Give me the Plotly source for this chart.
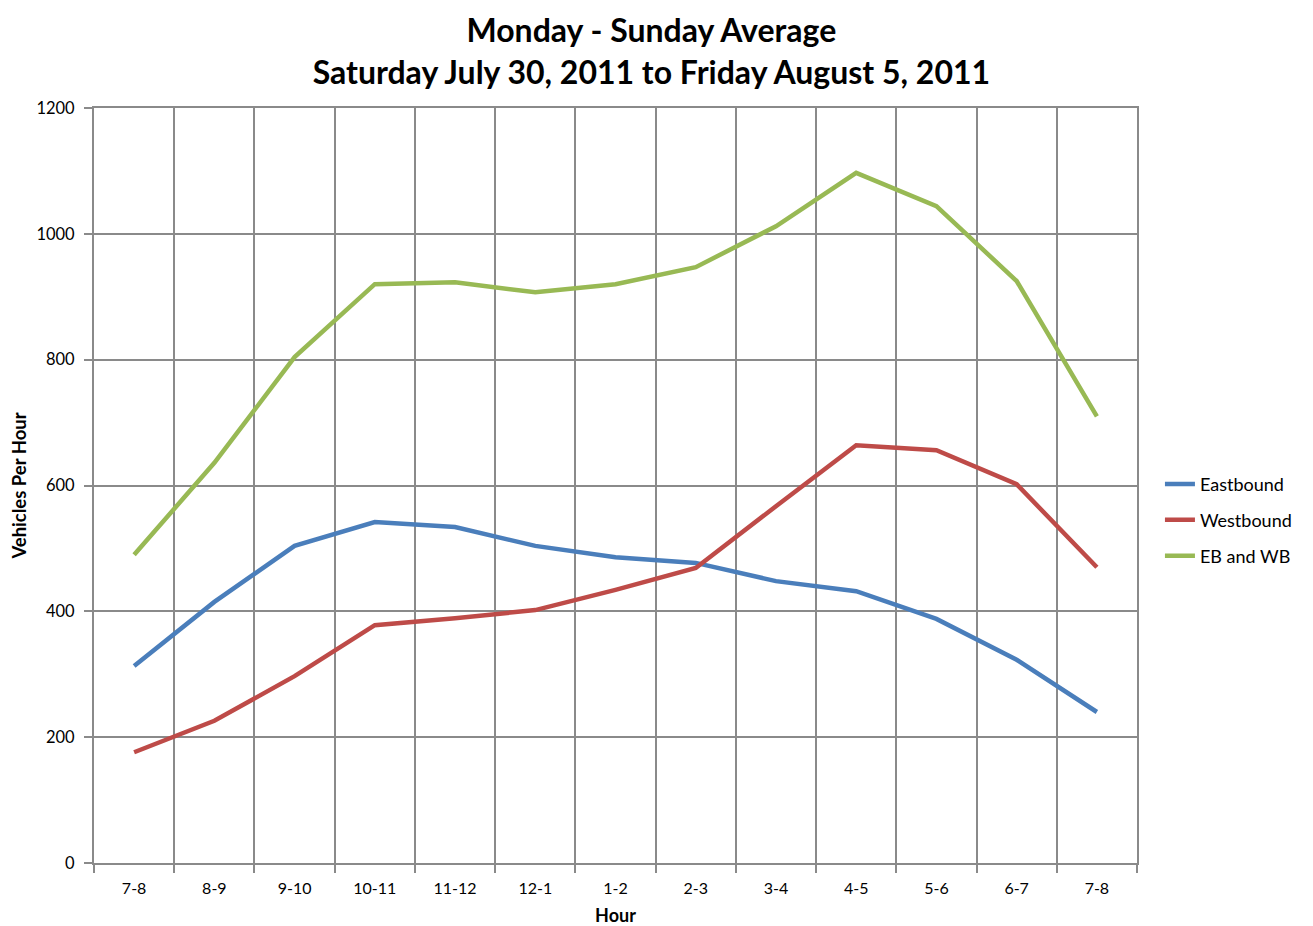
import plotly.graph_objects as go

hours = ["7-8", "8-9", "9-10", "10-11", "11-12", "12-1", "1-2", "2-3", "3-4", "4-5", "5-6", "6-7", "7-8"]
eastbound = [313, 415, 504, 542, 534, 504, 486, 477, 448, 432, 388, 323, 240]
westbound = [176, 226, 297, 378, 389, 402, 434, 469, 567, 664, 656, 602, 470]
eb_and_wb = [490, 636, 804, 920, 923, 907, 920, 947, 1012, 1097, 1044, 925, 710]

x = list(range(len(hours)))
FONT = "Lato, 'Open Sans', sans-serif"
GRID = "#8a8a8a"
W, H = 1305, 918

fig = go.Figure()
for name, vals, color in [("Eastbound", eastbound, "#4A7EBB"),
                          ("Westbound", westbound, "#BE4B48"),
                          ("EB and WB", eb_and_wb, "#98B954")]:
    fig.add_trace(go.Scatter(x=x, y=vals, name=name, mode="lines", legendgroup=name,
                             line=dict(color=color, width=4.5)))

fig.update_layout(
    width=W, height=H,
    paper_bgcolor="white", plot_bgcolor="white",
    margin=dict(l=86, r=176, t=100, b=63),
    title=dict(text="<b>Monday - Sunday Average<br>Saturday July 30, 2011 to Friday August 5, 2011</b>",
               x=0.493, xanchor="center", xref="container", y=1 - 34 / H, yanchor="middle",
               font=dict(family=FONT, size=32, color="black")),
    font=dict(family=FONT, size=16, color="black"),
    legend=dict(x=1.022, xanchor="left", y=0.454, yanchor="middle",
                font=dict(family=FONT, size=18, color="black"),
                traceorder="grouped", tracegroupgap=9.5, bgcolor="rgba(0,0,0,0)"),
    showlegend=True,
)

fig.update_xaxes(
    range=[-0.5, len(hours) - 0.5], automargin=False,
    tickmode="array", tickvals=x, ticktext=hours,
    ticks="", showgrid=False, zeroline=False, ticklabelstandoff=10,
    showline=True, linecolor=GRID, linewidth=2, mirror=True,
    tickfont=dict(family=FONT, size=16, color="black"),
    minor=dict(tickmode="linear", tick0=-0.5, dtick=1, ticks="outside", ticklen=8,
               tickwidth=2, tickcolor=GRID, showgrid=True, gridcolor=GRID, gridwidth=2),
    title=dict(text="<b>Hour</b>", font=dict(family=FONT, size=18, color="black"), standoff=27),
)
fig.update_yaxes(
    range=[0, 1200], tickmode="linear", tick0=0, dtick=200, automargin=False,
    ticks="outside", ticklen=8, tickwidth=2, tickcolor=GRID, ticklabelstandoff=6,
    showgrid=True, gridcolor=GRID, gridwidth=2, zeroline=False,
    showline=True, linecolor=GRID, linewidth=2, mirror=True,
    tickfont=dict(family=FONT, size=16.5, color="black"),
    title=dict(text="<b>Vehicles Per Hour</b>", font=dict(family=FONT, size=18.5, color="black"), standoff=7),
)

fig.write_html("out.html")
